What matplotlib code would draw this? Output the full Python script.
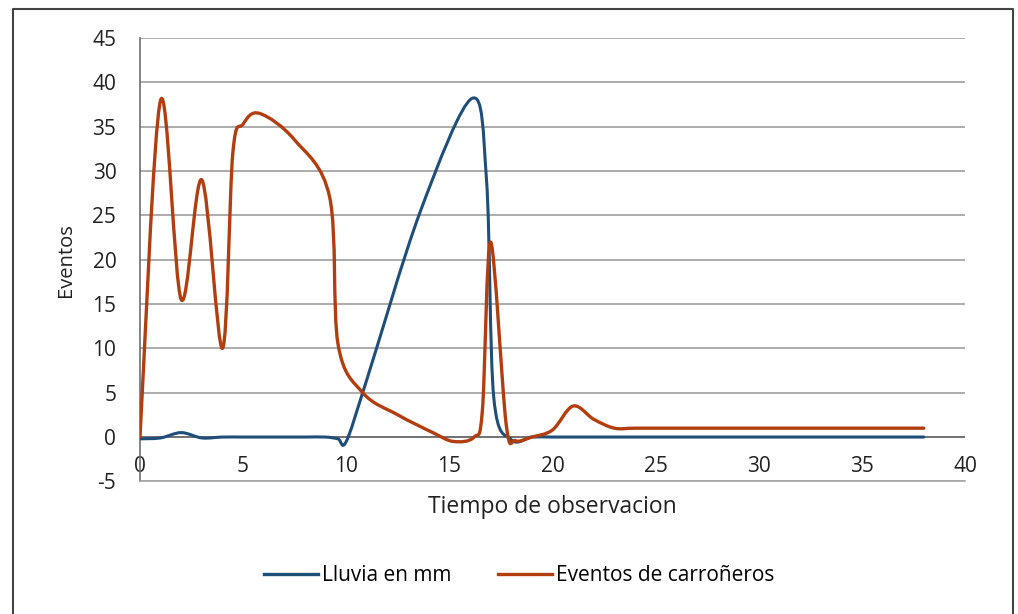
import numpy as np
import matplotlib.pyplot as plt
from matplotlib.path import Path
from matplotlib.patches import PathPatch
from matplotlib.lines import Line2D

plt.rcParams.update({
    'font.family': ['Open Sans', 'DejaVu Sans'],
    'axes.unicode_minus': False,
    'axes.linewidth': 1.2,
})

# Lluvia en mm
lluvia_x = [0, 1, 2, 3, 4, 5, 6, 7, 8, 9, 9.6, 10, 11, 13.6, 16.1, 16.8, 17.15, 18, 19, 20,
            22, 24, 26, 28, 30, 32, 34, 36, 38]
lluvia_y = [-0.2, -0.1, 0.5, -0.1, 0, 0, 0, 0, 0, 0, -0.2, -0.5, 6.5, 25.5, 38.2, 29, 4.5, -0.3, 0, 0,
            0, 0, 0, 0, 0, 0, 0, 0, 0]

# Eventos de carroñeros
carr_x = [0, 1, 2, 3, 4, 4.5, 5.0, 5.8, 7.5, 9.2, 9.6, 10.8, 12.5, 14.2, 15.2, 16.2, 16.6, 17, 17.75,
          18.2, 19, 20, 21, 22, 23, 24, 26, 28, 30, 32, 34, 36, 38]
carr_y = [0, 38, 15.5, 29, 10, 32, 35.3, 36.5, 33.5, 27, 10.5, 5, 2.5, 0.5, -0.5, 0, 3, 22, 1.5,
          -0.4, 0, 0.8, 3.5, 2, 1, 1, 1, 1, 1, 1, 1, 1, 1]

x_ticks = [0, 5, 10, 15, 20, 25, 30, 35, 40]
y_ticks = [-5, 0, 5, 10, 15, 20, 25, 30, 35, 40, 45]

col_lluvia = '#1F4E79'
col_carr = '#B23D0E'


def smooth_path(xs, ys):
    # Excel style smoothed line: cubic Bezier through the points
    p = np.column_stack([xs, ys]).astype(float)
    ext = np.vstack([p[0], p, p[-1]])
    verts = [p[0]]
    codes = [Path.MOVETO]
    for i in range(len(p) - 1):
        p0, p1, p2, p3 = ext[i], ext[i + 1], ext[i + 2], ext[i + 3]
        verts += [p1 + (p2 - p0) / 6, p2 - (p3 - p1) / 6, p2]
        codes += [Path.CURVE4] * 3
    return Path(verts, codes)


fig = plt.figure(figsize=(10.18, 6.14), dpi=100)
ax = fig.add_axes([0.1375, 0.216, 0.8105, 0.722])

ax.set_xlim(0, 40)
ax.set_ylim(-5, 45)
ax.set_xticks(x_ticks)
ax.set_yticks(y_ticks)

ax.grid(axis='y', color='#A6A6A6', lw=1.3)
ax.set_axisbelow(True)
ax.axhline(0, color='#6E6E6E', lw=1.3, zorder=1)

for s in ['top', 'right']:
    ax.spines[s].set_visible(False)
ax.spines['left'].set_color('#6E6E6E')
ax.spines['bottom'].set_color('#A6A6A6')

ax.tick_params(axis='x', length=0, pad=-18, labelsize=15, colors='#222222')
ax.tick_params(axis='y', length=0, pad=17, labelsize=15, colors='#222222')

ax.add_patch(PathPatch(smooth_path(lluvia_x, lluvia_y), fill=False, edgecolor=col_lluvia,
                       lw=2.2, zorder=3, capstyle='round', joinstyle='round'))
ax.add_patch(PathPatch(smooth_path(carr_x, carr_y), fill=False, edgecolor=col_carr,
                       lw=2.4, zorder=4, capstyle='round', joinstyle='round'))

ax.set_xlabel('Tiempo de observacion', fontsize=16.5, labelpad=10, color='#222222')
ax.set_ylabel('Eventos', fontsize=14.5, labelpad=12, color='#222222')

handles = [Line2D([0], [0], color=col_lluvia, lw=2.4, label='Lluvia en mm'),
           Line2D([0], [0], color=col_carr, lw=2.4, label='Eventos de carroñeros')]
fig.legend(handles=handles, loc='center', bbox_to_anchor=(0.51, 0.063), ncol=2,
           frameon=False, fontsize=15, handlelength=2.6, handletextpad=0.2,
           columnspacing=2.2)

# outer frame (left, top, right)
fx0, fx1, fy1 = 13 / 1018, 1013 / 1018, 1 - 9 / 614
fig.add_artist(Line2D([fx0, fx0, fx1, fx1], [0, fy1, fy1, 0], color='#444444', lw=1.5,
                      transform=fig.transFigure))

fig.savefig('out.png', dpi=100)
